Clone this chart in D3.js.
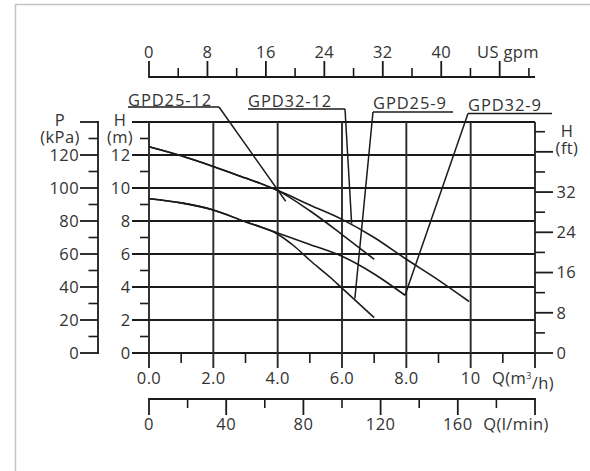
<!DOCTYPE html>
<html><head><meta charset="utf-8">
<script src="https://cdn.jsdelivr.net/npm/d3@7"></script>
<style>
html,body{margin:0;padding:0;background:#fff;}
svg text{font-family:"Open Sans",sans-serif;font-size:16.5px;fill:#333;letter-spacing:0.4px;}
</style></head>
<body><svg id="c" width="590" height="471"></svg>
<script>
// ---- data ----
const seriesNames = ["GPD25-12","GPD32-12","GPD25-9","GPD32-9"];
const q25_12 = [0,1,2,3,3.5,4,5,6,7.0];
const h25_12 = [12.5,11.95,11.3,10.6,10.25,9.84,8.62,7.18,5.68];
const q32_12 = [0,1,2,3,3.5,4,5,6,7,8,9,9.95];
const h32_12 = [12.5,11.95,11.3,10.6,10.25,9.86,8.97,8.1,7.0,5.68,4.42,3.12];
const q25_9 = [0,1,2,3,3.5,4,4.5,5,5.63,6,7.0];
const h25_9 = [9.35,9.1,8.67,7.95,7.62,7.2,6.5,5.62,4.59,3.93,2.14];
const q32_9 = [0,1,2,3,3.5,4,5,6,7,7.96];
const h32_9 = [9.35,9.1,8.67,7.95,7.62,7.27,6.58,5.86,4.79,3.5];
const labelTargetQ = [4.25,6.3,6.4,7.96];
const labelTargetH = [9.2,7.85,3.3,3.5];

const qTicks = [0,2,4,6,8,10,12];
const qMinor = [1,3,5,7,9,11];
const qLabels = ["0.0","2.0","4.0","6.0","8.0","10",""];
const hTicks = [0,2,4,6,8,10,12,14];
const hMinor = [1,3,5,7,9,11,13];
const pTicks = [0,20,40,60,80,100,120,140];
const pMinor = [10,30,50,70,90,110,130];
const ftTicks = [0,8,16,24,32,40];
const ftMinor = [4,12,20,28,36,44];
const gpmTicks = [0,8,16,24,32,40,48];
const gpmMinor = [4,12,20,28,36,44,52];
const lminTicks = [0,40,80,120,160,200];
const lminMinor = [20,60,100,140,180];

// ---- layout ----
const svg = d3.select("#c");
const L=149,R=535,T=122,B=353;
const x = d3.scaleLinear().domain([0,12]).range([L,R]);
const y = d3.scaleLinear().domain([0,14]).range([B,T]);
const yP = d3.scaleLinear().domain([0,140]).range([B,T]);
const yFt = d3.scaleLinear().domain([0,14/0.3048]).range([B,T]);
const xG = d3.scaleLinear().domain([0,12/0.227125]).range([L,R]);
const xL = d3.scaleLinear().domain([0,200]).range([L,R]);

const ink="#1a1a1a";
// frame
svg.append("rect").attr("x",15.5).attr("y",4.5).attr("width",700).attr("height",600)
  .attr("fill","none").attr("stroke","#c4c4c4").attr("stroke-width",1.5);

function line(x1,y1,x2,y2,w,c){svg.append("line").attr("x1",x1).attr("y1",y1).attr("x2",x2).attr("y2",y2)
  .attr("stroke",c||ink).attr("stroke-width",w||1.8);}
function text(t,xx,yy,anchor){return svg.append("text").attr("x",xx).attr("y",yy).attr("dy","0.36em")
  .attr("text-anchor",anchor||"middle").text(t);}

// grid horizontal (with left major ticks)
hTicks.forEach(v=>line(132,y(v),R,y(v),1.9));
hMinor.forEach(v=>line(140,y(v),L,y(v),1.6));
hTicks.slice(0,7).forEach(v=>text(String(v),130.5,y(v),"end"));
text("H",120,120); text("(m)",120,137.5);
// grid vertical (with bottom major ticks)
qTicks.forEach(v=>line(x(v),T,x(v),368,1.9,"#2a2a2a"));
qMinor.forEach(v=>line(x(v),B,x(v),363,1.6));
qTicks.forEach((v,i)=>{ if(qLabels[i]) text(qLabels[i],x(v),378.5);});
const qt = svg.append("text").attr("x",523).attr("y",378.5).attr("dy","0.36em").attr("text-anchor","middle");
qt.append("tspan").text("Q(m");
qt.append("tspan").text("3").attr("font-size","9px").attr("dy","-0.6em");
qt.append("tspan").text("/h)").attr("dy","0.6em");

// P axis
line(98,T-0.9,98,B+0.9,1.8);
pTicks.forEach(v=>line(80,yP(v),98,yP(v),1.8));
pMinor.forEach(v=>line(88.5,yP(v),98,yP(v),1.6));
pTicks.slice(0,7).forEach(v=>text(String(v),79,yP(v),"end"));
text("P",60,120); text("(kPa)",60,137.5);

// ft axis
ftTicks.forEach(v=>line(R,yFt(v),553,yFt(v),1.8));
ftMinor.forEach(v=>line(R,yFt(v),545,yFt(v),1.6));
ftTicks.slice(0,5).forEach(v=>text(String(v),556.5,yFt(v),"start"));
text("H",567,131); text("(ft)",567,148);

// top gpm axis
line(L-0.9,77,R,77,1.8);
gpmTicks.forEach(v=>line(xG(v),77,xG(v),61,1.8));
gpmMinor.forEach(v=>line(xG(v),77,xG(v),68,1.6));
gpmTicks.slice(0,6).forEach(v=>text(String(v),xG(v),52.5));
text("US gpm",508,52.5);

// bottom l/min axis
line(L-0.9,399,R+0.9,399,1.8);
lminTicks.forEach(v=>line(xL(v),399,xL(v),415,1.8));
lminMinor.forEach(v=>line(xL(v),399,xL(v),408,1.6));
lminTicks.slice(0,5).forEach(v=>text(String(v),xL(v),424));
text("Q(l/min)",516,424);

// curves
const curveQ=[q25_12,q32_12,q25_9,q32_9];
const curveH=[h25_12,h32_12,h25_9,h32_9];
const gen = d3.line().x(d=>x(d[0])).y(d=>y(d[1])).curve(d3.curveMonotoneX);
curveQ.forEach((qs,i)=>{
  svg.append("path").attr("d",gen(qs.map((q,j)=>[q,curveH[i][j]])))
    .attr("fill","none").attr("stroke",ink).attr("stroke-width",1.6);
});

// labels with leader lines (placement only; targets from data)
const labelX=[128,248,373,468], labelBase=[100,101,103,105.5], ulY=[107,109,112,113.5];
const ulX1=[219,345,453,552], leaderFrom=[219,345,373,468];
seriesNames.forEach((n,i)=>{
  text(n,labelX[i],labelBase[i],"start").style("letter-spacing","0.9px");
  line(labelX[i],ulY[i],ulX1[i],ulY[i],1.5);
  line(leaderFrom[i],ulY[i],x(labelTargetQ[i]),y(labelTargetH[i]),1.5);
});
</script></body></html>
